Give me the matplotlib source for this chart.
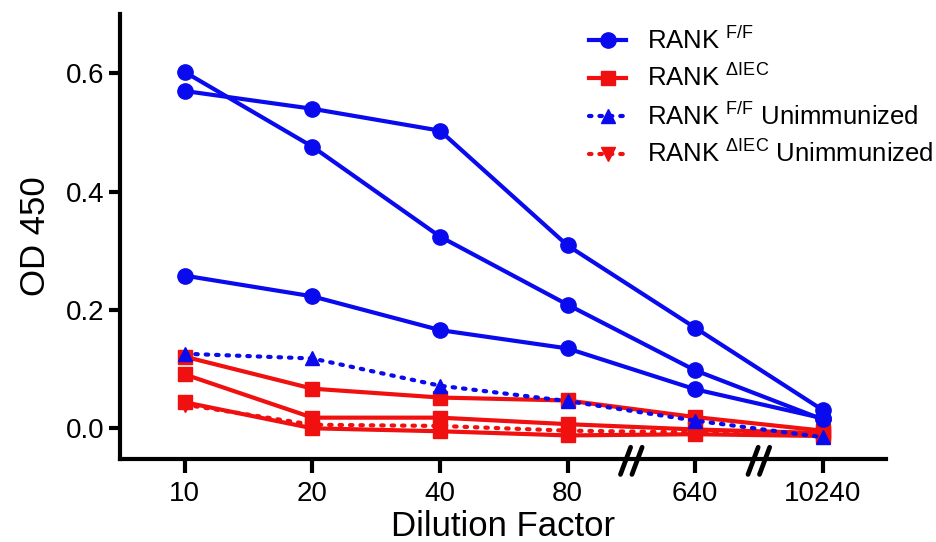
import matplotlib
matplotlib.use("Agg")
import matplotlib.pyplot as plt
from matplotlib.lines import Line2D

plt.rcParams['font.family'] = ['Liberation Sans', 'DejaVu Sans']
plt.rcParams['mathtext.fontset'] = 'custom'
plt.rcParams['mathtext.rm'] = 'Liberation Sans'
plt.rcParams['mathtext.it'] = 'Liberation Sans'
plt.rcParams['mathtext.bf'] = 'Liberation Sans'

dilutions = ["10", "20", "40", "80", "640", "10240"]

ff_1 = [0.602, 0.476, 0.324, 0.209, 0.098, 0.015]
ff_2 = [0.570, 0.540, 0.503, 0.309, 0.170, 0.031]
ff_3 = [0.258, 0.223, 0.166, 0.135, 0.066, 0.017]

iec_1 = [0.121, 0.067, 0.052, 0.047, 0.019, -0.004]
iec_2 = [0.091, 0.018, 0.018, 0.007, -0.002, -0.008]
iec_3 = [0.044, 0.000, -0.005, -0.012, -0.010, -0.013]

ff_unimm = [0.126, 0.118, 0.072, 0.046, 0.013, -0.015]
iec_unimm = [0.040, 0.006, 0.004, -0.004, -0.007, -0.012]

blue = '#0a0aee'
red = '#f01010'
LW = 3.0
DOT = (0, (0.6, 1.9))

fig = plt.figure(figsize=(9.36, 5.42), dpi=100)
ax = fig.add_axes([0.128, 0.153, 0.819, 0.821])

x = list(range(len(dilutions)))

for ys in (iec_1, iec_2, iec_3):
    ax.plot(x, ys, color=red, lw=LW, marker='s', ms=10.5, zorder=3)
ax.plot(x, iec_unimm, color=red, lw=LW, ls=DOT, dash_capstyle='round',
        marker='v', ms=9.5, zorder=3.5)
for ys in (ff_1, ff_2, ff_3):
    ax.plot(x, ys, color=blue, lw=LW, marker='o', ms=11, zorder=4)
ax.plot(x, ff_unimm, color=blue, lw=LW, ls=DOT, dash_capstyle='round',
        marker='^', ms=10.5, zorder=5)

ax.set_xlim(-0.51, 5.5)
ax.set_ylim(-0.052, 0.70)
ax.set_xticks(x)
ax.set_xticklabels(dilutions)
ax.set_yticks([0.0, 0.2, 0.4, 0.6])
ax.set_yticklabels(["0.0", "0.2", "0.4", "0.6"])
ax.tick_params(axis='both', labelsize=20, width=3, length=8, color='black')
ax.tick_params(axis='x', length=10, pad=6)
ax.tick_params(axis='y', pad=3)
for s in ('top', 'right'):
    ax.spines[s].set_visible(False)
for s in ('left', 'bottom'):
    ax.spines[s].set_linewidth(3)

ax.set_xlabel("Dilution Factor", fontsize=25, labelpad=2)
ax.set_ylabel("OD 450", fontsize=25, labelpad=10)

# axis break marks
for xb in (3.5, 4.5):
    for dx in (-0.045, 0.045):
        ax.plot([xb + dx - 0.04, xb + dx + 0.04], [-0.078, -0.032], color='black',
                lw=3.4, solid_capstyle='round', clip_on=False, zorder=6,
                transform=ax.transData)

handles = [
    Line2D([], [], color=blue, lw=LW, marker='o', ms=11),
    Line2D([], [], color=red, lw=LW, marker='s', ms=10.5),
    Line2D([], [], color=blue, lw=LW, ls=DOT, dash_capstyle='round', marker='^', ms=10.5),
    Line2D([], [], color=red, lw=LW, ls=DOT, dash_capstyle='round', marker='v', ms=9.5),
]
labels = [r"RANK $^{\mathrm{F/F}}$", r"RANK $^{\mathrm{\Delta IEC}}$",
          r"RANK $^{\mathrm{F/F}}$ Unimmunized", r"RANK $^{\mathrm{\Delta IEC}}$ Unimmunized"]
leg = ax.legend(handles, labels, loc='upper left', bbox_to_anchor=(0.612, 0.972),
                frameon=False, fontsize=18.5, handlelength=1.45, handletextpad=0.8,
                labelspacing=0.42, borderaxespad=0, borderpad=0)

fig.savefig("out.png", dpi=100)
